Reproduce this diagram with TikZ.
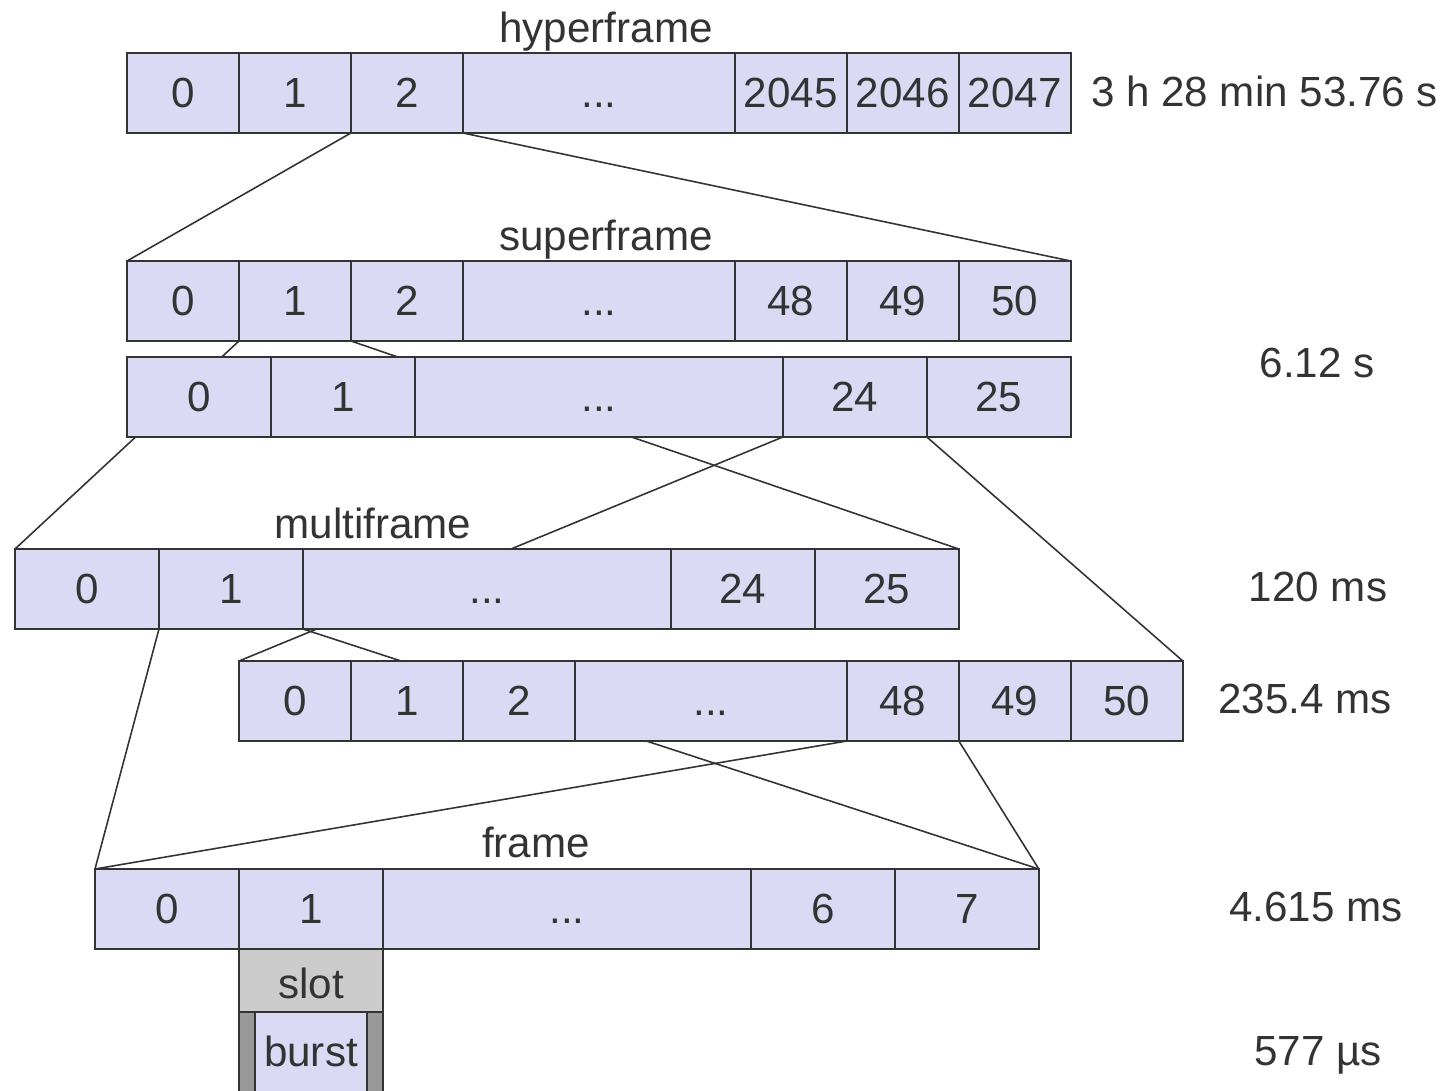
\documentclass[tikz,border=0pt]{standalone}
\usepackage{fontspec}
\setmainfont{Liberation Sans}
\usetikzlibrary{positioning, backgrounds}
\definecolor{cellfill}{RGB}{218,218,244}
\definecolor{ink}{RGB}{51,51,51}
\definecolor{slotgray}{RGB}{204,204,204}
\definecolor{guardgray}{RGB}{153,153,153}
\tikzset{
every node/.style={font=\fontsize{24}{28}\selectfont, text=ink, outer sep=0pt, inner sep=0pt}, % plain text everywhere
cell/.style={draw=ink, line width=1.1pt, fill=cellfill, minimum height=1.6cm, text height=17pt, text depth=0pt}, % one box of a row
narrow/.style={cell, minimum width=2.24cm},
wide/.style={cell, minimum width=2.88cm},
gap/.style={cell, minimum width=#1}, % the ... box
link/.style={draw=ink, line width=0.9pt}, % expansion lines
title/.style={anchor=base},
}

\begin{document}
\begin{tikzpicture}[x=0.02cm, y=-0.02cm]
\useasboundingbox (0,0) rectangle (1448,1090);

% hyperframe
\node[narrow, anchor=north west] (h0) at (127,53) {0};
\node[narrow, right=0pt of h0] (h1) {1};
\node[narrow, right=0pt of h1] (h2) {2};
\node[gap=5.44cm, right=0pt of h2] (hdots) {...};
\node[narrow, right=0pt of hdots] (h45) {2045};
\node[narrow, right=0pt of h45] (h46) {2046};
\node[narrow, right=0pt of h46] (h47) {2047};
\node[title] (hlbl) at (606,42) {hyperframe};
\node[anchor=base west] (htime) at (1091,106) {3 h 28 min 53.76 s};

% superframe, 51 x 26
\node[narrow, anchor=north west] (s0) at (127,261) {0};
\node[narrow, right=0pt of s0] (s1) {1};
\node[narrow, right=0pt of s1] (s2) {2};
\node[gap=5.44cm, right=0pt of s2] (sdots) {...};
\node[narrow, right=0pt of sdots] (s48) {48};
\node[narrow, right=0pt of s48] (s49) {49};
\node[narrow, right=0pt of s49] (s50) {50};
\node[title] (slbl) at (606,250) {superframe};

% superframe, 26 x 51
\node[wide, anchor=north west] (t0) at (127,357) {0};
\node[wide, right=0pt of t0] (t1) {1};
\node[gap=7.36cm, right=0pt of t1] (tdots) {...};
\node[wide, right=0pt of tdots] (t24) {24};
\node[wide, right=0pt of t24] (t25) {25};
\node[title] (stime) at (1317,377) {6.12 s};

% multiframe, 26 frames
\node[wide, anchor=north west] (m0) at (15,549) {0};
\node[wide, right=0pt of m0] (m1) {1};
\node[gap=7.36cm, right=0pt of m1] (mdots) {...};
\node[wide, right=0pt of mdots] (m24) {24};
\node[wide, right=0pt of m24] (m25) {25};
\node[title] (mlbl) at (373,538) {multiframe};
\node[title] (mtime) at (1318,601) {120 ms};

% multiframe, 51 frames
\node[narrow, anchor=north west] (n0) at (239,661) {0};
\node[narrow, right=0pt of n0] (n1) {1};
\node[narrow, right=0pt of n1] (n2) {2};
\node[gap=5.44cm, right=0pt of n2] (ndots) {...};
\node[narrow, right=0pt of ndots] (n48) {48};
\node[narrow, right=0pt of n48] (n49) {49};
\node[narrow, right=0pt of n49] (n50) {50};
\node[title] (ntime) at (1305,713) {235.4 ms};

% frame
\node[wide, anchor=north west] (f0) at (95,869) {0};
\node[wide, right=0pt of f0] (f1) {1};
\node[gap=7.36cm, right=0pt of f1] (fdots) {...};
\node[wide, right=0pt of fdots] (f6) {6};
\node[wide, right=0pt of f6] (f7) {7};
\node[title] (flbl) at (536,857) {frame};
\node[title] (ftime) at (1316,921) {4.615 ms};

% slot and burst
\node[wide, below=0pt of f1, fill=slotgray, minimum height=1.26cm, text height=20pt] (slot) {slot};
\node[narrow, below=0pt of slot] (burst) {burst};
\node[cell, fill=guardgray, minimum width=0.32cm, left=0pt of burst] (gl) {};
\node[cell, fill=guardgray, minimum width=0.32cm, right=0pt of burst] (gr) {};
\node[title] (btime) at (1318,1065) {577 µs};

\begin{pgfonlayer}{background}
\draw[link] (h2.south west) -- (s0.north west);
\draw[link] (h2.south east) -- (s50.north east);
\draw[link] (s1.south west) -- (m0.north west);
\draw[link] (s1.south east) -- (m25.north east);
\draw[link] (t24.south west) -- (n0.north west);
\draw[link] (t24.south east) -- (n50.north east);
\draw[link] (m1.south west) -- (f0.north west);
\draw[link] (m1.south east) -- (f7.north east);
\draw[link] (n48.south west) -- (f0.north west);
\draw[link] (n48.south east) -- (f7.north east);
\end{pgfonlayer}
\end{tikzpicture}
\end{document}
